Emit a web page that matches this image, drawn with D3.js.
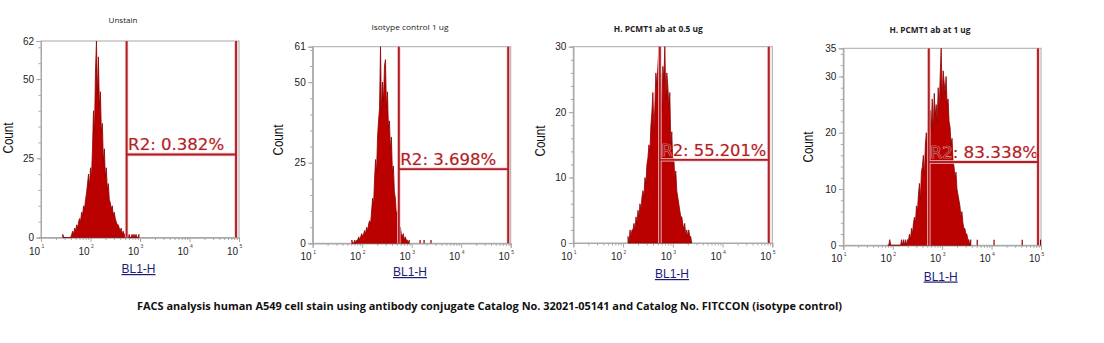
<!DOCTYPE html>
<html><head><meta charset="utf-8">
<script src="https://cdn.jsdelivr.net/npm/d3@7"></script>
<style>body{margin:0;background:#fff;} svg{display:block}</style>
</head><body>
<svg id="c" width="1104" height="343"></svg>
<script>
// ---------------- DATA ----------------
const titles = ["Unstain", "Isotype control 1 ug", "H. PCMT1 ab at 0.5 ug", "H. PCMT1 ab at 1 ug"];
const gateLabels = ["R2: 0.382%", "R2: 3.698%", "R2: 55.201%", "R2: 83.338%"];
const gateLow = [537, 550, 550, 537];          // BL1-H value of left gate line
const gateHigh = [87000, 89000, 85000, 87000]; // BL1-H value of right gate line
const gateCount = [26.2, 23, 12.7, 14.8];      // count level of horizontal gate line
const yMax = [62, 61, 30, 35];
const yTickLabels = [[0, 25, 50, 62], [0, 25, 50, 61], [0, 10, 20, 30], [0, 10, 20, 30, 35]];
const yMinorStep = [5, 5, 2, 2];
const xTickExponents = [1, 2, 3, 4, 5];
const xLabel = "BL1-H";
const yLabel = "Count";
const caption = "FACS analysis human A549 cell stain using antibody conjugate Catalog No. 32021-05141 and Catalog No. FITCCON (isotype control)";

const channelsPerDecade = 50;
const histStartLog = [1.44, 1.79, 2.10, 1.90];   // log10 of first channel of each histogram
const counts1 = [1,0,0,0,0,0,0,0,0,
  1,2,1,3,2,4,3,5,6,5,8,7,10,9,12,14,17,20,16,22,19,28,40,33,52,62,45,57,41,46,33,36,24,28,19,22,15,17,12,11,9,10,7,8,6,5,4,4,3,2,3,1,2,1,1,0,1,0,1,0,0,1,0,1,0,1,0,0,1];
const counts2 = [1,0,0,1,0,1,1,2,1,2,3,2,3,4,3,5,4,6,7,6,10,14,12,20,26,22,33,38,42,61,40,50,44,55,57,42,47,36,38,29,33,22,24,16,14,9,10,6,4,5,3,2,3,1,2,1,1,0,1];
const counts3 = [1,0,2,1,2,2,3,2,4,3,5,4,6,5,7,8,7,10,9,12,13,15,14,18,20,23,17,21,26,24,27,30,22,26,20,27,25,30,22,26,24,21,23,15,17,12,13,10,11,8,7,6,5,4,4,3,2,3,1,2,1,2,1,1,0];
const counts4 = [0,0,1,0,0,0,0,0,0,0,0,0,0,0,1,0,1,0,1,0,1,1,2,1,3,2,4,5,4,7,6,9,11,8,13,14,16,12,18,20,17,22,19,24,21,26,20,27,23,25,22,28,24,30,35,26,31,29,27,30,25,26,22,21,18,19,15,14,12,13,10,9,8,7,5,6,4,3,3,2,2,1,1,0,1];
const counts = [counts1, counts2, counts3, counts4];
// isolated single events (log10 BL1-H, count)
const sparseLog = [[], [3.17, 3.25, 3.39], [], [3.71, 4.05, 4.62, 4.99]];
const sparseCount = [[], [1, 1, 1], [], [1, 1, 1, 1]];

// ---------------- LAYOUT ----------------
const layout = [
  {x0: 41,    x1: 239,    yTop: 41,   yBot: 237.5, title: [123, 23],   tLen: 29,  cnt: [8, 138],   xl: [138.5, 273], weight: "normal"},
  {x0: 312.7, x1: 510.7,  yTop: 46.7, yBot: 243.3, title: [410, 30],   tLen: 77,  cnt: [278, 140], xl: [410, 276],   weight: "normal"},
  {x0: 573.3, x1: 772.3,  yTop: 46.7, yBot: 243,   title: [658.3, 31.5], tLen: 89, cnt: [540, 141], xl: [672, 278],   weight: "bold"},
  {x0: 843.3, x1: 1041,   yTop: 48.3, yBot: 245.3, title: [930, 33],   tLen: 81,  cnt: [808, 147], xl: [940.7, 280.5], weight: "bold"}
];
const labelLen = [96, 96, 105, 108];
const axisCol = "#a8a8a8";
const histFill = "#bb0000", histStroke = "#8e0000";
const gateCol = "#b01e26", gateHalo = "#f4c4c4";

const svg = d3.select("#c");

layout.forEach((L, k) => {
  const g = svg.append("g");
  const x = d3.scaleLog().domain([10, 1e5]).range([L.x0, L.x1]);
  const y = d3.scaleLinear().domain([0, yMax[k]]).range([L.yBot, L.yTop]);

  // title
  g.append("text").attr("x", L.title[0]).attr("y", L.title[1]).attr("text-anchor", "middle")
    .attr("font-family", "Open Sans, sans-serif").attr("font-size", 8).attr("font-weight", L.weight)
    .attr("fill", "#222").attr("textLength", L.tLen).attr("lengthAdjust", "spacingAndGlyphs").text(titles[k]);

  // frame
  g.append("rect").attr("x", L.x0).attr("y", L.yTop).attr("width", L.x1 - L.x0).attr("height", L.yBot - L.yTop)
    .attr("fill", "none").attr("stroke", axisCol).attr("stroke-width", 1);

  // y axis: minor and major ticks
  const minor = d3.range(0, yMax[k] + 0.001, yMinorStep[k]);
  const yMinorAxis = d3.axisLeft(y).tickValues(minor).tickSize(2.5).tickFormat("");
  const gy1 = g.append("g").attr("transform", `translate(${L.x0},0)`).call(yMinorAxis);
  const yMajorAxis = d3.axisLeft(y).tickValues(yTickLabels[k]).tickSize(4.5).tickPadding(2.5).tickFormat(d3.format("d"));
  const gy2 = g.append("g").attr("transform", `translate(${L.x0},0)`).call(yMajorAxis);
  [gy1, gy2].forEach(a => { a.select(".domain").attr("stroke", axisCol); a.selectAll("line").attr("stroke", axisCol); });
  gy2.selectAll("text").attr("font-family", "Liberation Sans, Arial, sans-serif").attr("font-size", 10).attr("fill", "#222");

  // x axis: minor ticks and decades
  const xMinor = [];
  for (let e = 1; e < 5; e++) for (let m = 2; m <= 9; m++) xMinor.push(m * Math.pow(10, e));
  const gx1 = g.append("g").attr("transform", `translate(0,${L.yBot})`)
    .call(d3.axisBottom(x).tickValues(xMinor).tickSize(2.5).tickFormat(""));
  const xMajor = xTickExponents.map(e => Math.pow(10, e));
  const gx2 = g.append("g").attr("transform", `translate(0,${L.yBot})`)
    .call(d3.axisBottom(x).tickValues(xMajor).tickSize(4.5).tickFormat(""));
  [gx1, gx2].forEach(a => { a.select(".domain").attr("stroke", axisCol); a.selectAll("line").attr("stroke", axisCol); });
  xTickExponents.forEach(e => {
    const tx = x(Math.pow(10, e));
    g.append("text").attr("x", tx - 1).attr("y", L.yBot + 17).attr("text-anchor", "end")
      .attr("font-family", "Liberation Sans, Arial, sans-serif").attr("font-size", 10).attr("fill", "#222").text("10");
    g.append("text").attr("x", tx + 0.5).attr("y", L.yBot + 10.5)
      .attr("font-family", "Liberation Sans, Arial, sans-serif").attr("font-size", 5).attr("fill", "#444").text(e);
  });

  // axis titles
  g.append("text").attr("transform", `translate(${L.cnt[0] + 5},${L.cnt[1]}) rotate(-90)`).attr("text-anchor", "middle")
    .attr("font-family", "Liberation Sans, Arial, sans-serif").attr("font-size", 14).attr("fill", "#111")
    .attr("textLength", 31).attr("lengthAdjust", "spacingAndGlyphs").text(yLabel);
  g.append("text").attr("x", L.xl[0]).attr("y", L.xl[1]).attr("text-anchor", "middle")
    .attr("font-family", "Liberation Sans, Arial, sans-serif").attr("font-size", 12).attr("fill", "#1c1c78")
    .attr("text-decoration", "underline").text(xLabel);

  // histogram
  const pts = counts[k].map((c, i) => ({v: Math.pow(10, histStartLog[k] + i / channelsPerDecade), c}));
  const area = d3.area().x(d => x(d.v)).y0(L.yBot).y1(d => y(d.c)).curve(d3.curveLinear);
  g.append("path").datum(pts).attr("d", area).attr("fill", histFill).attr("stroke", histStroke).attr("stroke-width", 0.8);
  sparseLog[k].forEach((lv, i) => {
    const sx = x(Math.pow(10, lv));
    g.append("line").attr("x1", sx).attr("x2", sx).attr("y1", L.yBot).attr("y2", y(sparseCount[k][i]))
      .attr("stroke", histStroke).attr("stroke-width", 1.2);
  });

  // gate label
  const gx = x(gateLow[k]), gxr = x(gateHigh[k]), gy = y(gateCount[k]);
  g.append("text").attr("x", gx + 1.5).attr("y", gy - 4)
    .attr("font-family", "DejaVu Sans, Verdana, sans-serif").attr("font-size", 15).attr("fill", gateCol)
    .attr("stroke", gateHalo).attr("stroke-width", 0.6).attr("paint-order", "stroke")
    .attr("textLength", labelLen[k]).attr("lengthAdjust", "spacingAndGlyphs").text(gateLabels[k]);

  // gate lines
  const gateSegs = [
    [gx, L.yTop, gx, L.yBot],
    [gxr, L.yTop, gxr, L.yBot],
    [gx, gy, gxr, gy]
  ];
  [[gateHalo, 3.4], [gateCol, 1.9]].forEach(([col, w]) => {
    gateSegs.forEach(s => g.append("line").attr("x1", s[0]).attr("y1", s[1]).attr("x2", s[2]).attr("y2", s[3])
      .attr("stroke", col).attr("stroke-width", w));
  });
});

svg.append("text").attr("x", 489.5).attr("y", 309.5).attr("text-anchor", "middle")
  .attr("font-family", "Open Sans, sans-serif").attr("font-size", 11).attr("font-weight", "bold").attr("fill", "#111")
  .attr("textLength", 705).attr("lengthAdjust", "spacingAndGlyphs").text(caption);
</script>
</body></html>
